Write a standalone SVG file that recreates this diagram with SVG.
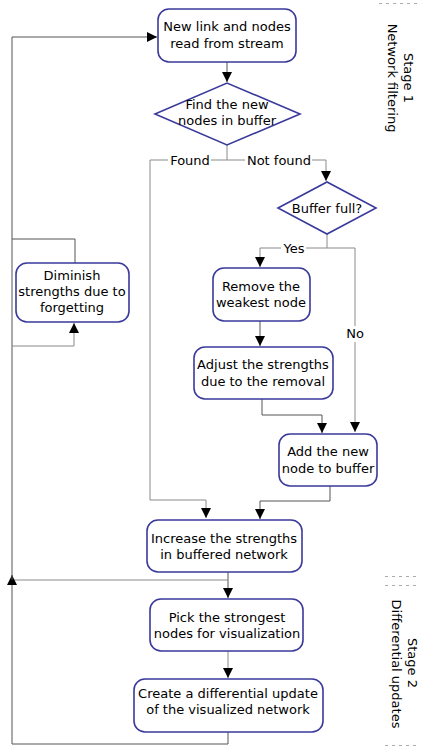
<svg xmlns="http://www.w3.org/2000/svg" width="421" height="748" viewBox="0 0 421 748">
<style>
.box{fill:#fff;stroke:#3a3a9c;stroke-width:1.6}
.t{font-family:"DejaVu Sans",Verdana,sans-serif;font-size:13px;fill:#000;text-anchor:middle}
.c{fill:none;stroke:#8a8a8a;stroke-width:1}
.d{fill:none;stroke:#555;stroke-width:1}
.dash{fill:none;stroke:#aaa;stroke-width:1;stroke-dasharray:3,4}
</style>
<defs>
<marker id="a" markerUnits="userSpaceOnUse" markerWidth="10" markerHeight="10" refX="10" refY="5" orient="auto">
<path d="M0,0 L10,5 L0,10 z" fill="#000"/>
</marker>
</defs>
<rect width="421" height="748" fill="#fff"/>
<g id="connectors">
<path class="d" d="M227,62 V82" marker-end="url(#a)"/>
<path class="c" d="M227,145 V160 H211 M168,160 H150 V500 H206 V518" marker-end="url(#a)"/>
<path class="c" d="M227,160 H245 M312,160 H326 V181" marker-end="url(#a)"/>
<path class="c" d="M327,234 V248 H306 M281,248 H260 V267" marker-end="url(#a)"/>
<path class="c" d="M327,248 H355 V326 M355,342 V432" marker-end="url(#a)"/>
<path class="d" d="M260,321 V346" marker-end="url(#a)"/>
<path class="d" d="M262,399 V415 H322 V433" marker-end="url(#a)"/>
<path class="d" d="M330,486 V501 H260 V519" marker-end="url(#a)"/>
<path class="d" d="M228,572 V598" marker-end="url(#a)"/>
<path class="c" d="M228,580 H12"/>
<path class="c" d="M228,651 V678" marker-end="url(#a)"/>
<path class="d" d="M228,732 V744 H12 V575" marker-end="url(#a)"/>
<path class="d" d="M12,580 V37 H157" marker-end="url(#a)"/>
<path class="d" d="M12,239 H75 V263"/>
<path class="c" d="M12,346 H74 V323" marker-end="url(#a)"/>
<text class="t" x="190" y="165">Found</text>
<text class="t" x="279" y="165">Not found</text>
<text class="t" x="294" y="253">Yes</text>
<text class="t" x="355" y="338">No</text>
</g>
<g id="n1"><rect class="box" x="158" y="9" width="138" height="53" rx="11"/>
<text class="t" x="227" y="31">New link and nodes</text><text class="t" x="227" y="48">read from stream</text></g>
<g id="n2"><path class="box" d="M155,114 L227,83 L300,114 L227,145 Z"/>
<text class="t" x="227" y="109">Find the new</text><text class="t" x="227" y="125">nodes in buffer</text></g>
<g id="n3"><path class="box" d="M278,208 L327,182 L376,208 L327,234 Z"/>
<text class="t" x="327" y="213">Buffer full?</text></g>
<g id="n4"><rect class="box" x="213" y="268" width="97" height="53" rx="11"/>
<text class="t" x="261" y="291">Remove the</text><text class="t" x="261" y="307">weakest node</text></g>
<g id="n5"><rect class="box" x="194" y="347" width="139" height="52" rx="11"/>
<text class="t" x="263" y="369">Adjust the strengths</text><text class="t" x="263" y="386">due to the removal</text></g>
<g id="n6"><rect class="box" x="279" y="434" width="98" height="52" rx="11"/>
<text class="t" x="328" y="456">Add the new</text><text class="t" x="328" y="473">node to buffer</text></g>
<g id="n7"><rect class="box" x="147" y="520" width="155" height="52" rx="11"/>
<text class="t" x="224" y="543">Increase the strengths</text><text class="t" x="224" y="559">in buffered network</text></g>
<g id="n8"><rect class="box" x="16" y="263" width="113" height="59" rx="11"/>
<text class="t" x="72" y="280">Diminish</text><text class="t" x="72" y="296">strengths due to</text><text class="t" x="72" y="312">forgetting</text></g>
<g id="n9"><rect class="box" x="150" y="599" width="153" height="52" rx="11"/>
<text class="t" x="227" y="622">Pick the strongest</text><text class="t" x="227" y="638">nodes for visualization</text></g>
<g id="n10"><rect class="box" x="134" y="679" width="189" height="53" rx="11"/>
<text class="t" x="228" y="698">Create a differential update</text><text class="t" x="228" y="714">of the visualized network</text></g>
<g id="stages">
<path class="dash" d="M379,3.5 H418 M385,576.5 H418 M385,585.5 H418 M385,745.5 H418"/>
<text class="t" transform="translate(404,78) rotate(90)">Stage 1</text>
<text class="t" transform="translate(388,78) rotate(90)">Network filtering</text>
<text class="t" transform="translate(408,663) rotate(90)">Stage 2</text>
<text class="t" transform="translate(392,664) rotate(90)">Differential updates</text>
</g>
</svg>
